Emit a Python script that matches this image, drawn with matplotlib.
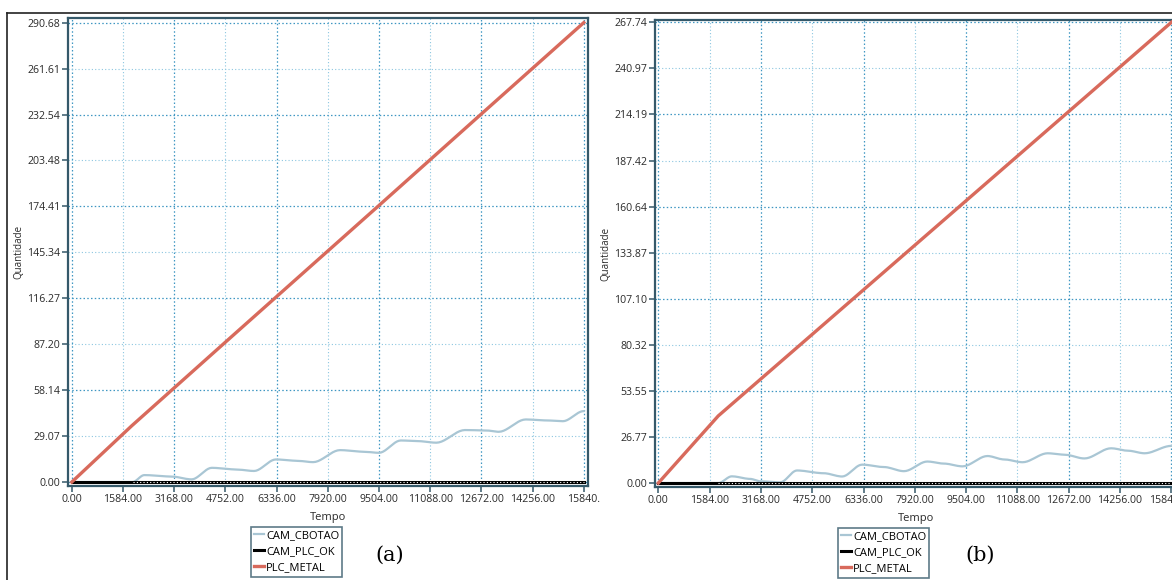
import numpy as np
import matplotlib
matplotlib.use('Agg')
from matplotlib import pyplot as plt
from matplotlib.lines import Line2D

plt.rcParams['font.family'] = ['Open Sans', 'DejaVu Sans']

# ---- data ----
series_names = ['CAM_CBOTAO', 'CAM_PLC_OK', 'PLC_METAL']

# panel (a)
a_yticks = [0.00, 29.07, 58.14, 87.20, 116.27, 145.34, 174.41, 203.48, 232.54, 261.61, 290.68]
a_metal_t = [0, 1850, 4752, 9504, 12672, 15840]
a_metal_v = [0.0, 35.5, 88.5, 175.0, 232.9, 290.68]
a_cbot_t = [0, 1880, 2245, 3080, 3707, 4333, 5064, 5638, 6317, 6944, 7466, 8301, 9032, 9502,
            10180, 10703, 11277, 12164, 12791, 13209, 14044, 14670, 15192, 15840]
a_cbot_v = [0.0, 0.0, 4.4, 3.5, 1.7, 9.0, 8.0, 7.0, 14.3, 13.5, 12.6, 20.2, 19.2, 18.5,
            26.3, 25.9, 24.9, 32.9, 32.7, 31.8, 39.6, 39.0, 38.5, 44.9]
a_plcok_t = [0, 1880, 15840]
a_plcok_v = [0.0, 0.0, 0.0]

# panel (b)
b_yticks = [0.00, 26.77, 53.55, 80.32, 107.10, 133.87, 160.64, 187.42, 214.19, 240.97, 267.74]
b_metal_t = [0, 1850, 4752, 7920, 11088, 15840]
b_metal_v = [0.0, 39.0, 86.4, 138.2, 190.0, 267.74]
b_cbot_t = [0, 1857, 2270, 2838, 3147, 3766, 4282, 5108, 5675, 6295, 6965, 7585, 8307, 8823,
            9391, 10164, 10680, 11248, 12022, 12538, 13157, 13982, 14498, 15014, 15840]
b_cbot_v = [0.0, 0.0, 3.9, 2.4, 1.0, 0.4, 7.3, 5.7, 3.8, 10.7, 9.3, 6.9, 12.5, 11.3,
            9.7, 15.7, 13.7, 12.1, 17.3, 16.5, 14.3, 20.2, 18.8, 17.3, 21.6]
b_plcok_t = [0, 1857, 15840]
b_plcok_v = [0.0, 0.0, 0.0]

xticks = [0, 1584, 3168, 4752, 6336, 7920, 9504, 11088, 12672, 14256, 15840]

W, H = 1172, 580
SPINE = '#35596a'
GRID_LT = '#8cc6e0'
GRID_DK = '#3f97c2'
C_CBOT = '#a9c6d4'
C_METAL = '#d86a5c'


def smooth(t, v, n=12):
    """soft rounding between read points so the wiggles look smooth"""
    t = np.asarray(t, float)
    v = np.asarray(v, float)
    out_t, out_v = [t[0]], [v[0]]
    for i in range(len(t) - 1):
        s = np.linspace(0, 1, n)[1:]
        w = 3 * s**2 - 2 * s**3
        out_t.extend(t[i] + (t[i + 1] - t[i]) * s)
        out_v.extend(v[i] + (v[i + 1] - v[i]) * w)
    return np.array(out_t), np.array(out_v)


def draw_panel(rect, xlim, ylim, yticks, cbot, plcok, metal, last_xlabel, tag, leg_xy, tag_xy):
    ax = fig.add_axes(rect)
    ax.set_xlim(*xlim)
    ax.set_ylim(*ylim)

    # grid: light dotted on every tick, darker on every other one
    for i, x in enumerate(xticks):
        if i % 2 == 0:
            ax.axvline(x, color=GRID_DK, lw=0.9, ls=(0, (1.2, 1.8)), zorder=1)
        else:
            ax.axvline(x, color=GRID_LT, lw=0.8, ls=(0, (1, 2)), zorder=1)
    for i, y in enumerate(yticks):
        if i % 2 == 0:
            ax.axhline(y, color=GRID_DK, lw=0.9, ls=(0, (1.2, 1.8)), zorder=1)
        else:
            ax.axhline(y, color=GRID_LT, lw=0.8, ls=(0, (1, 2)), zorder=1)

    ct, cv = smooth(*cbot)
    l1, = ax.plot(ct, cv, color=C_CBOT, lw=1.6, zorder=3)
    l2, = ax.plot(plcok[0], plcok[1], color='black', lw=2.2, zorder=4)
    # white dots running along the zero line after the switch
    ax.plot(plcok[0][1:], plcok[1][1:], color='white', lw=0.8, ls=(0, (1, 2)), zorder=5)
    l3, = ax.plot(metal[0], metal[1], color=C_METAL, lw=2.4, zorder=6)

    ax.set_xticks(xticks)
    xl = ['%.2f' % x for x in xticks]
    xl[-1] = last_xlabel
    ax.set_xticklabels(xl)
    ax.set_yticks(yticks)
    ax.set_yticklabels(['%.2f' % y for y in yticks])
    ax.tick_params(axis='both', labelsize=7.6, colors='#2a2a2a', length=4, width=1.1, pad=1.5)
    ax.tick_params(axis='both', color=SPINE)
    for s in ax.spines.values():
        s.set_color(SPINE)
        s.set_linewidth(1.6)
    ax.set_xlabel('Tempo', fontsize=8, labelpad=5, color='#2a2a2a')
    ax.set_ylabel('Quantidade', fontsize=7, labelpad=2, color='#2a2a2a')

    leg = fig.legend([l1, l2, l3], series_names, loc='upper left',
                     bbox_to_anchor=(leg_xy[0] / W, 1 - leg_xy[1] / H),
                     bbox_transform=fig.transFigure, fontsize=8, frameon=True,
                     fancybox=False, handlelength=0.9, handletextpad=0.15,
                     borderpad=0.3, labelspacing=0.45, borderaxespad=0)
    leg.get_frame().set_edgecolor(SPINE)
    leg.get_frame().set_linewidth(1.2)
    fig.text(tag_xy[0] / W, 1 - tag_xy[1] / H, tag, fontsize=15, family='DejaVu Serif',
             ha='center', va='center')
    return ax


fig = plt.figure(figsize=(W / 100, H / 100), dpi=100)

# panel (a)
draw_panel([68 / W, 1 - 486 / H, 520 / W, 468 / H], (-117, 15970), (-2.5, 293.6),
           a_yticks, (a_cbot_t, a_cbot_v), (a_plcok_t, a_plcok_v), (a_metal_t, a_metal_v),
           '15840.', '(a)', (251, 527), (390, 555))

# panel (b)
draw_panel([655 / W, 1 - 487 / H, 521 / W, 467 / H], (-102, 15984), (-2.3, 269.1),
           b_yticks, (b_cbot_t, b_cbot_v), (b_plcok_t, b_plcok_v), (b_metal_t, b_metal_v),
           '15840.00', '(b)', (838, 528), (980, 555))

# outer frame (top and left edges of the figure box)
fig.add_artist(Line2D([7 / W, 7 / W], [0, 1 - 13 / H], color='#222222', lw=1.2))
fig.add_artist(Line2D([7 / W, 1], [1 - 13 / H, 1 - 13 / H], color='#222222', lw=1.2))

fig.savefig('out.png', dpi=100)
